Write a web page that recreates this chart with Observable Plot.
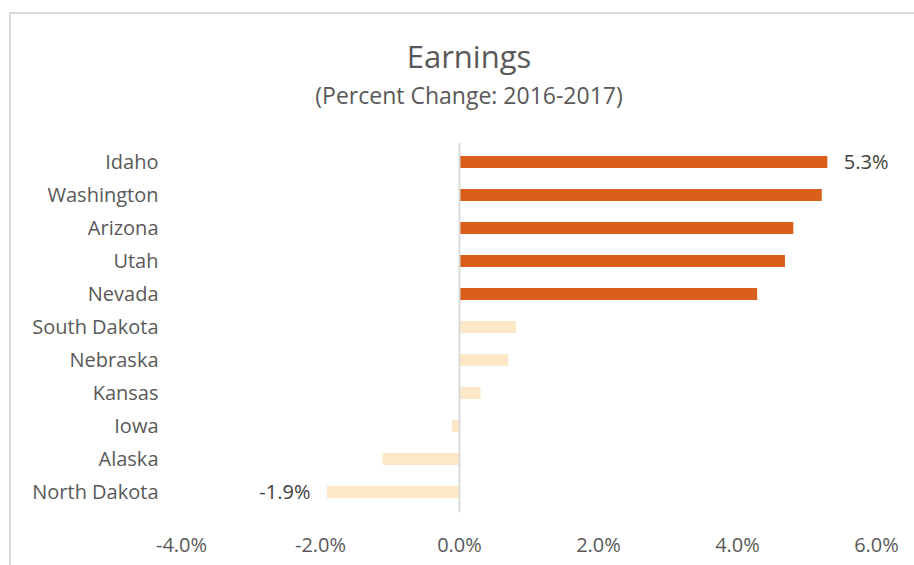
<!DOCTYPE html>
<html>
<head>
<meta charset="utf-8">
<script src="https://cdn.jsdelivr.net/npm/d3@7"></script>
<script src="https://cdn.jsdelivr.net/npm/@observablehq/plot@0.6"></script>
<style>
  html, body { margin: 0; padding: 0; background: #fff; }
  #wrap { position: relative; width: 914px; height: 565px; overflow: hidden; font-family: "Open Sans", sans-serif; }
  #frame { position: absolute; left: 9px; top: 12px; width: 920px; height: 570px; border-left: 2px solid #d9d9d9; border-top: 2px solid #d9d9d9; pointer-events: none; }
  #header { position: relative; height: 130px; }
  #title { position: absolute; left: 0; width: 938px; top: 41px; text-align: center; font-size: 31px; line-height: 1; color: #595959; }
  #subtitle { position: absolute; left: 0; width: 938px; top: 84px; text-align: center; font-size: 23px; line-height: 1; color: #595959; }
  #chart svg { display: block; }
</style>
</head>
<body>
<div id="wrap">
  <div id="frame"></div>
  <div id="header">
    <div id="title">Earnings</div>
    <div id="subtitle">(Percent Change: 2016-2017)</div>
  </div>
  <div id="chart"></div>
</div>
<script>
const states = ["Idaho", "Washington", "Arizona", "Utah", "Nevada", "South Dakota", "Nebraska", "Kansas", "Iowa", "Alaska", "North Dakota"];
const changes = [5.3, 5.22, 4.81, 4.69, 4.29, 0.82, 0.71, 0.31, -0.1, -1.1, -1.9];
const groups = ["top", "top", "top", "top", "top", "other", "other", "other", "other", "other", "other"];
const labeled = ["Idaho", "North Dakota"];
const xTicks = [-4, -2, 0, 2, 4, 6];

const data = states.map((s, i) => ({state: s, value: changes[i], group: groups[i]}));
const pct = v => (+v).toFixed(1) + "%";
const labelData = data.filter(d => labeled.includes(d.state));

const chart = Plot.plot({
  width: 914,
  height: 435,
  marginLeft: 181,
  marginRight: 38,
  marginTop: 3,
  marginBottom: 43.5,
  style: {fontFamily: "Open Sans, sans-serif", fontSize: "20px", color: "#595959", background: "transparent"},
  x: {domain: [-4, 6], ticks: xTicks, tickFormat: pct, label: null},
  y: {domain: states, padding: 0.65, label: null},
  color: {domain: ["top", "other"], range: ["#D95F1A", "#FDE8C5"]},
  marks: [
    Plot.barX(data, {x: "value", y: "state", fill: "group"}),
    Plot.ruleX([0], {stroke: "#d9d9d9", strokeWidth: 2, insetTop: 10, insetBottom: 9}),
    Plot.text(labelData.filter(d => d.value >= 0), {
      x: "value", y: "state", text: d => pct(d.value),
      textAnchor: "start", dx: 16, fill: "#404040", fontSize: 20
    }),
    Plot.text(labelData.filter(d => d.value < 0), {
      x: "value", y: "state", text: d => pct(d.value),
      textAnchor: "end", dx: -17, fill: "#404040", fontSize: 20
    }),
    Plot.axisX({ticks: xTicks, tickFormat: pct, tickSize: 0, tickPadding: 16, fontSize: 20, label: null}),
    Plot.axisY({tickSize: 0, tickPadding: 23, fontSize: 20, label: null})
  ]
});
document.getElementById("chart").appendChild(chart);
</script>
</body>
</html>
